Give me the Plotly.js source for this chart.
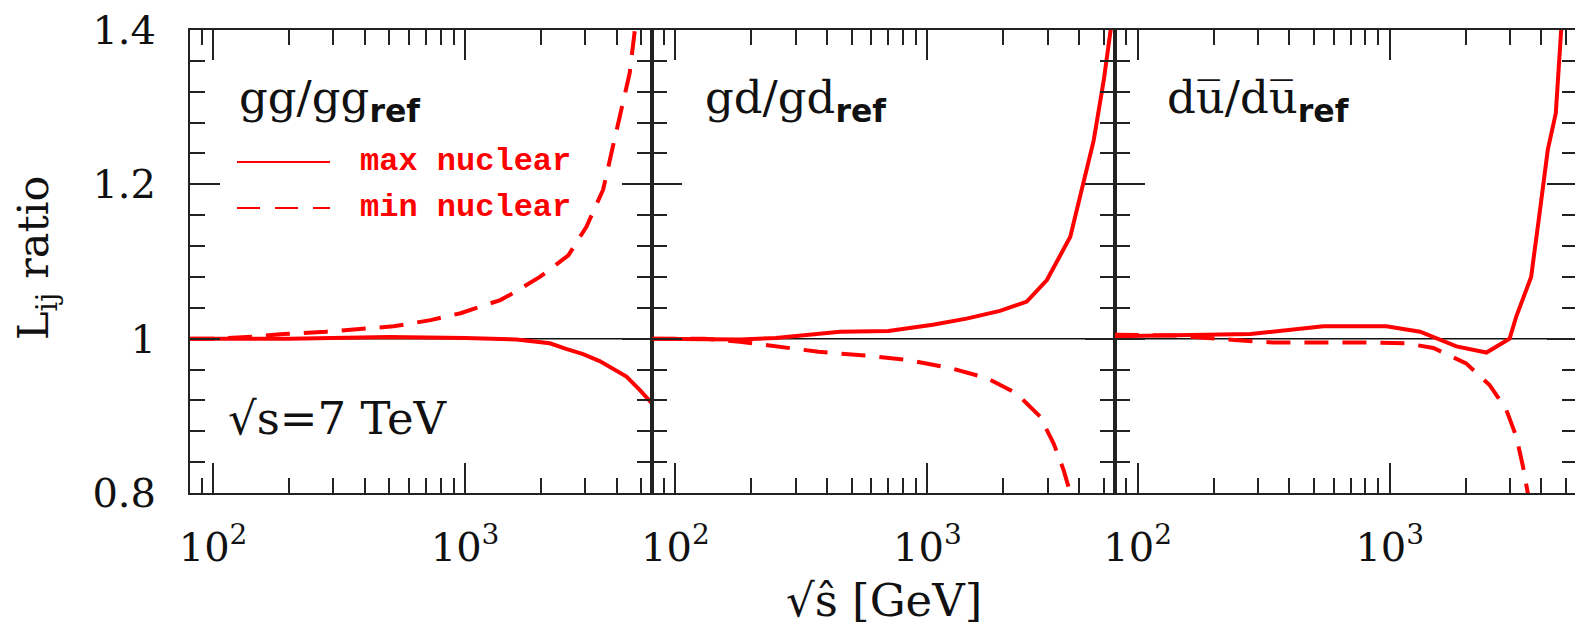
<!DOCTYPE html>
<html>
<head>
<meta charset="utf-8">
<script src="https://cdn.plot.ly/plotly-3.0.1.min.js"></script>
<style>html,body{margin:0;padding:0;overflow:hidden;background:#fff;}</style>
</head>
<body>
<div id="chart"></div>
<script>
// ---- data (sqrt(s_hat) in GeV, luminosity ratio) ----
const ggMaxX = [81, 200, 500, 1000, 1600, 2170, 2500, 2940, 3420, 3640, 4370, 4920, 5480, 5600];
const ggMaxY = [1.000, 1.000, 1.002, 1.001, 0.999, 0.994, 0.987, 0.980, 0.971, 0.966, 0.951, 0.934, 0.918, 0.914];
const ggMinX = [81, 100, 150, 190, 280, 400, 520, 730, 960, 1380, 1510, 1980, 2570, 3030, 3530, 3860, 4170, 4500, 4710, 5000];
const ggMinY = [1.000, 1.000, 1.003, 1.006, 1.009, 1.013, 1.016, 1.024, 1.033, 1.050, 1.057, 1.080, 1.108, 1.145, 1.193, 1.249, 1.296, 1.344, 1.398, 1.470];

const gdMaxX = [81, 180, 250, 330, 450, 700, 1050, 1430, 1940, 2480, 2980, 3690, 4170, 4570, 5010, 5330, 5600];
const gdMaxY = [1.000, 0.999, 1.001, 1.005, 1.009, 1.010, 1.018, 1.026, 1.036, 1.048, 1.076, 1.132, 1.201, 1.257, 1.335, 1.400, 1.450];
const gdMinX = [81, 130, 180, 260, 370, 570, 850, 1230, 1720, 2260, 2800, 3170, 3470, 3690, 3900];
const gdMinY = [1.000, 1.000, 0.996, 0.990, 0.983, 0.978, 0.972, 0.962, 0.949, 0.929, 0.899, 0.864, 0.830, 0.800, 0.770];

const duMaxX = [81, 140, 280, 545, 970, 1320, 1840, 2420, 2990, 3180, 3640, 3930, 4240, 4560, 4780, 4900];
const duMaxY = [1.003, 1.004, 1.006, 1.016, 1.016, 1.009, 0.990, 0.982, 1.000, 1.029, 1.080, 1.162, 1.245, 1.292, 1.400, 1.450];
const duMinX = [81, 140, 250, 345, 860, 1160, 1490, 2010, 2490, 2900, 3180, 3380, 3530, 3650];
const duMinY = [1.005, 1.004, 0.998, 0.995, 0.995, 0.994, 0.988, 0.968, 0.940, 0.908, 0.873, 0.834, 0.800, 0.770];

const xTickVals = [100, 1000];
const xTickText = ['10<sup>2</sup>', '10<sup>3</sup>'];
const xMinorVals = [90, 200, 300, 400, 500, 600, 700, 800, 900, 2000, 3000, 4000, 5000];
const yTickVals = [0.8, 1.0, 1.2, 1.4];
const yTickText = ['0.8', '1', '1.2', '1.4'];
const panelLabels = ['gg/gg', 'gd/gd', 'du\u0305/du\u0305'];
const legendLabels = ['max nuclear', 'min nuclear'];

const RED = '#ff0000';
const SERIF = 'DejaVu Serif';

function line(x, y, xa, ya, dashed) {
  return {x: x, y: y, xaxis: xa, yaxis: ya, type: 'scatter', mode: 'lines',
    line: {color: RED, width: 4, dash: dashed ? '24px,14px' : 'solid', shape: 'linear'},
    showlegend: false, hoverinfo: 'skip', cliponaxis: true};
}

const traces = [
  line(ggMaxX, ggMaxY, 'x', 'y', false),
  line(ggMinX, ggMinY, 'x', 'y', true),
  line(gdMaxX, gdMaxY, 'x2', 'y2', false),
  line(gdMinX, gdMinY, 'x2', 'y2', true),
  line(duMaxX, duMaxY, 'x3', 'y3', false),
  line(duMinX, duMinY, 'x3', 'y3', true)
];

const xRange = [Math.log10(81), Math.log10(5535)];
const yRange = [0.8, 1.4];

function xAxis(domain, anchor) {
  return {
    type: 'log', range: xRange, domain: domain, anchor: anchor,
    tickmode: 'array', tickvals: xTickVals, ticktext: xTickText,
    ticks: 'inside', ticklen: 30, tickwidth: 2, tickcolor: '#222',
    minor: {tickmode: 'array', tickvals: xMinorVals, ticks: 'inside', ticklen: 15, tickwidth: 2, tickcolor: '#222'},
    mirror: 'ticks', showline: true, linecolor: '#222', linewidth: 2,
    showgrid: false, zeroline: false,
    tickfont: {family: SERIF, size: 40, color: '#111'},
    ticklabelstandoff: 18,
    fixedrange: true
  };
}
function yAxis(anchor, showLabels) {
  return {
    range: yRange, domain: [0, 1], anchor: anchor,
    tickmode: 'array', tickvals: yTickVals, ticktext: yTickText,
    ticks: 'inside', ticklen: 30, tickwidth: 2, tickcolor: '#222',
    minor: {tick0: 0.8, dtick: 0.04, ticks: 'inside', ticklen: 15, tickwidth: 2, tickcolor: '#222'},
    mirror: 'ticks', showline: true, linecolor: '#222', linewidth: 2,
    showgrid: false, zeroline: false, showticklabels: showLabels,
    tickfont: {family: SERIF, size: 40, color: '#111'},
    ticklabelstandoff: 24,
    fixedrange: true
  };
}

const W = 1580, H = 637;
const ML = 190, MR = 3, MT = 30, MB = 144;
const PW = W - ML - MR, PH = H - MT - MB;
const px = v => (v - ML) / PW;
const py = v => (H - MB - v) / PH;

const sub = '<sub><b><span style="font-family:\'DejaVu Sans\'">ref</span></b></sub>';
const labelX = [237, 703, 1165];
const annotations = panelLabels.map((t, i) => ({
  text: t + sub, x: px(labelX[i]), y: py(100), xref: 'paper', yref: 'paper', xanchor: 'left', yanchor: 'middle',
  showarrow: false, font: {family: SERIF, size: 45, color: '#111'}
}));

annotations.push(
  {text: legendLabels[0], x: px(358), y: py(161), xref: 'paper', yref: 'paper', xanchor: 'left', yanchor: 'middle',
   showarrow: false, font: {family: 'Liberation Mono', size: 32, weight: 'bold', color: RED}},
  {text: legendLabels[1], x: px(358), y: py(207), xref: 'paper', yref: 'paper', xanchor: 'left', yanchor: 'middle',
   showarrow: false, font: {family: 'Liberation Mono', size: 32, weight: 'bold', color: RED}},
  {text: '\u221As=7 TeV', x: px(226), y: py(418), xref: 'paper', yref: 'paper', xanchor: 'left', yanchor: 'middle',
   showarrow: false, font: {family: SERIF, size: 45, color: '#111'}},
  {text: '\u221As\u0302 [GeV]', x: px(884), y: py(600), xref: 'paper', yref: 'paper', xanchor: 'center', yanchor: 'middle',
   showarrow: false, font: {family: SERIF, size: 45, color: '#111'}},
  {text: 'L<sub>ij</sub> ratio', x: px(36), y: py(258), xref: 'paper', yref: 'paper', xanchor: 'center', yanchor: 'middle',
   textangle: -90, showarrow: false, font: {family: SERIF, size: 43, color: '#111'}}
);

const shapes = [
  {type: 'line', xref: 'paper', yref: 'y', x0: 0, x1: 1, y0: 1, y1: 1, layer: 'below', line: {color: '#111', width: 1.5}},
  {type: 'line', xref: 'paper', yref: 'paper', x0: px(237), x1: px(330), y0: py(162), y1: py(162), line: {color: RED, width: 2}},
  {type: 'line', xref: 'paper', yref: 'paper', x0: px(237), x1: px(330), y0: py(208), y1: py(208), line: {color: RED, width: 2, dash: '23px,15px'}}
];

const layout = {
  width: W, height: H,
  margin: {l: ML, r: MR, t: MT, b: MB, pad: 0},
  paper_bgcolor: '#fff', plot_bgcolor: '#fff',
  showlegend: false,
  xaxis: xAxis([0, 1/3], 'y'),
  xaxis2: xAxis([1/3, 2/3], 'y2'),
  xaxis3: xAxis([2/3, 1], 'y3'),
  yaxis: yAxis('x', true),
  yaxis2: yAxis('x2', false),
  yaxis3: yAxis('x3', false),
  annotations: annotations,
  shapes: shapes
};

Plotly.newPlot('chart', traces, layout, {staticPlot: true, displayModeBar: false});
</script>
</body>
</html>
